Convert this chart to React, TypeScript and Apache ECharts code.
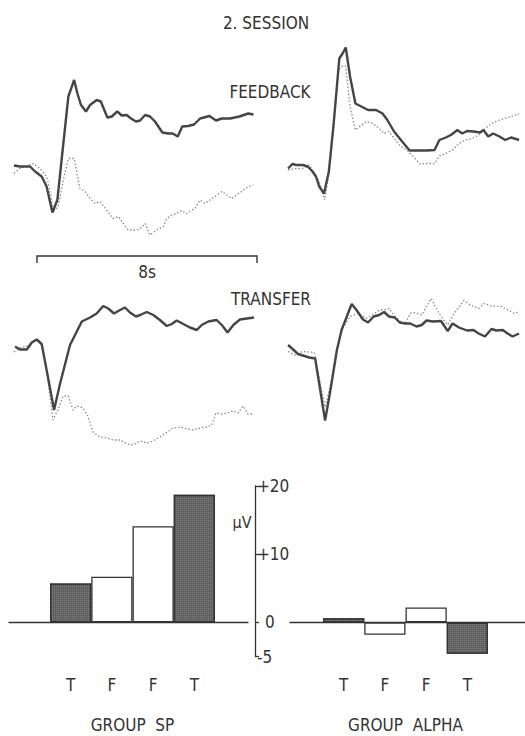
import React, { useEffect, useRef } from "react";
import * as echarts from "echarts";

// Averaged slow potentials, time in seconds from trial onset, amplitude in µV.
// Solid = group SP, dotted = comparison trace.
const feedbackSpSolid: [number, number][] = [
  [-0.84, 0.1], [-0.62, -0.1], [-0.25, -0.1], [-0.07, -1.1], [0.17, -2.1], [0.35, -4.1],
  [0.56, -9.3], [0.74, -6.8], [0.96, 4.6], [1.14, 13.9], [1.35, 17.2], [1.47, 14.5],
  [1.6, 12.2], [1.78, 10.9], [1.93, 12.2], [2.17, 13.2], [2.32, 12.9], [2.56, 9.7],
  [2.72, 9.9], [2.92, 10.9], [3.08, 10.1], [3.26, 10.2], [3.42, 9.5], [3.6, 8.9],
  [3.75, 9.1], [3.93, 10.2], [4.11, 9.9], [4.29, 8.9], [4.56, 6.7], [4.77, 6.5],
  [4.93, 6.5], [5.12, 5.9], [5.28, 7.9], [5.5, 8.0], [5.71, 8.3], [5.93, 9.5],
  [6.27, 10.0], [6.51, 9.1], [6.72, 9.5], [7.02, 9.5], [7.36, 9.9], [7.68, 10.5], [7.87, 10.3],
];
const feedbackSpDotted: [number, number][] = [
  [-0.84, -1.5], [-0.62, -0.5], [-0.13, 0.5], [0.11, -0.5], [0.35, -2.1], [0.47, -4.8],
  [0.59, -9.1], [0.77, -8.1], [0.96, -2.8], [1.14, 1.5], [1.35, 1.5], [1.56, -4.5],
  [1.75, -5.1], [1.93, -6.5], [2.11, -7.5], [2.29, -7.1], [2.53, -8.8], [2.77, -10.5],
  [2.96, -10.1], [3.14, -11.5], [3.32, -12.8], [3.5, -12.8], [3.72, -12.7], [3.93, -11.5],
  [4.11, -13.8], [4.35, -12.8], [4.59, -12.1], [4.72, -10.5], [4.9, -9.8], [5.08, -9.5],
  [5.26, -8.9], [5.44, -9.5], [5.63, -8.8], [5.75, -8.5], [5.93, -6.8], [6.11, -7.5],
  [6.29, -6.8], [6.47, -6.1], [6.72, -5.1], [6.9, -5.8], [7.08, -6.5], [7.26, -5.8],
  [7.44, -5.1], [7.68, -4.1], [7.87, -3.8],
];
const feedbackAlphaSolid: [number, number][] = [
  [-0.83, -0.5], [-0.67, 0.4], [-0.52, 0.2], [-0.28, 0.2], [-0.1, -0.1], [0.08, -1.1],
  [0.21, -2.1], [0.33, -4.1], [0.51, -5.5], [0.69, -1.1], [0.87, 8.5], [1.08, 21.5],
  [1.2, 22.5], [1.32, 23.7], [1.48, 17.9], [1.68, 12.5], [1.9, 11.9], [2.15, 11.2],
  [2.45, 11.2], [2.69, 10.5], [2.87, 9.2], [3.12, 6.9], [3.42, 4.9], [3.7, 3.1],
  [3.96, 3.1], [4.33, 3.1], [4.63, 3.2], [4.81, 5.2], [5.05, 5.7], [5.24, 6.2],
  [5.48, 7.2], [5.66, 6.5], [5.84, 7.0], [6.08, 6.9], [6.33, 6.7], [6.45, 7.2],
  [6.63, 5.9], [6.81, 6.5], [7.05, 5.9], [7.26, 5.2], [7.48, 5.7], [7.78, 5.2],
];
const feedbackAlphaDotted: [number, number][] = [
  [-0.83, -0.8], [-0.52, -0.5], [-0.28, -0.5], [-0.04, 0.2], [0.15, -1.5], [0.33, -3.1],
  [0.53, -6.8], [0.69, -1.8], [0.87, 7.9], [1.05, 19.2], [1.17, 19.9], [1.32, 19.9],
  [1.48, 11.9], [1.68, 7.2], [1.84, 7.9], [2.08, 8.9], [2.33, 8.5], [2.57, 7.5],
  [2.75, 6.5], [2.93, 6.9], [3.12, 5.5], [3.36, 4.0], [3.6, 3.2], [3.85, 1.8],
  [4.08, 0.4], [4.33, 0.5], [4.63, 0.5], [4.81, 2.0], [5.05, 2.5], [5.3, 3.2],
  [5.54, 4.5], [5.78, 5.2], [6.03, 5.5], [6.27, 6.2], [6.51, 7.5], [6.75, 8.5],
  [7.0, 9.1], [7.24, 9.5], [7.48, 9.9], [7.78, 10.5],
];
const transferSpSolid: [number, number][] = [
  [-0.8, 0.1], [-0.62, -0.5], [-0.37, -0.5], [-0.19, 0.9], [-0.01, 1.5], [0.17, 0.6],
  [0.35, -4.6], [0.62, -12.6], [0.84, -7.3], [1.2, 0.4], [1.63, 5.1], [1.93, 5.9],
  [2.17, 6.7], [2.41, 8.2], [2.59, 7.7], [2.8, 6.7], [3.02, 7.4], [3.2, 7.9],
  [3.38, 6.9], [3.6, 6.1], [3.75, 6.4], [3.99, 7.0], [4.23, 6.4], [4.47, 5.4],
  [4.72, 4.2], [4.9, 4.6], [5.08, 5.3], [5.32, 4.6], [5.56, 3.9], [5.81, 3.4],
  [5.99, 4.4], [6.23, 5.1], [6.53, 5.4], [6.72, 4.4], [6.93, 2.9], [7.14, 4.4],
  [7.38, 5.5], [7.63, 5.7], [7.89, 5.9],
];
const transferSpDotted: [number, number][] = [
  [-0.84, -1.0], [-0.62, -0.2], [-0.36, 0.2], [-0.15, 1.0], [0.0, 1.4], [0.18, 0.4],
  [0.36, -5.0], [0.58, -14.6], [0.76, -12.6], [0.95, -9.8], [1.13, -9.8], [1.31, -12.6],
  [1.45, -11.8], [1.67, -12.2], [1.85, -13.8], [2.04, -17.0], [2.29, -18.0], [2.55, -18.2],
  [2.76, -18.6], [3.02, -18.6], [3.27, -19.4], [3.49, -19.6], [3.75, -18.8], [4.0, -19.2],
  [4.22, -18.8], [4.47, -18.0], [4.73, -17.0], [4.95, -16.2], [5.2, -16.0], [5.45, -16.4],
  [5.67, -16.6], [5.93, -16.2], [6.18, -16.0], [6.36, -15.6], [6.51, -13.2], [6.73, -13.4],
  [6.91, -13.2], [7.13, -12.8], [7.31, -13.2], [7.49, -11.8], [7.67, -13.4], [7.89, -13.4],
];
const transferAlphaSolid: [number, number][] = [
  [-0.83, 0.4], [-0.64, -0.5], [-0.46, -1.4], [-0.22, -1.8], [-0.04, -2.1], [0.18, -2.3],
  [0.33, -7.3], [0.55, -14.7], [0.75, -8.6], [0.99, -0.6], [1.17, 3.5], [1.36, 6.1],
  [1.54, 8.6], [1.72, 7.4], [1.96, 5.5], [2.15, 4.9], [2.36, 6.1], [2.57, 6.4],
  [2.75, 7.0], [2.93, 6.1], [3.14, 5.9], [3.33, 4.9], [3.54, 4.7], [3.72, 4.7],
  [3.96, 4.1], [4.15, 4.4], [4.33, 5.3], [4.57, 5.1], [4.87, 5.2], [5.12, 3.2],
  [5.3, 4.7], [5.54, 3.9], [5.84, 3.3], [6.08, 3.4], [6.27, 2.7], [6.51, 2.1],
  [6.75, 3.6], [6.93, 3.3], [7.17, 3.4], [7.35, 2.7], [7.54, 2.1], [7.78, 2.7],
];
const transferAlphaDotted: [number, number][] = [
  [-0.83, -0.9], [-0.58, -1.6], [-0.28, -0.9], [0.15, -1.1], [0.33, -6.2], [0.55, -12.0],
  [0.75, -7.6], [0.99, -0.6], [1.17, 3.4], [1.48, 6.1], [1.78, 6.7], [2.08, 5.7],
  [2.39, 6.7], [2.57, 7.4], [2.75, 7.4], [2.93, 7.7], [3.12, 6.4], [3.36, 5.1],
  [3.54, 4.7], [3.72, 6.7], [3.9, 6.9], [4.15, 6.4], [4.33, 8.1], [4.51, 9.7],
  [4.69, 7.7], [4.87, 6.1], [5.12, 4.4], [5.36, 6.7], [5.72, 9.3], [5.96, 8.4],
  [6.27, 7.7], [6.48, 8.7], [6.75, 8.2], [7.12, 8.1], [7.36, 7.4], [7.6, 6.7], [7.78, 7.1],
];

// Mean amplitude change per block (µV); T = transfer, F = feedback.
const barCategories = ["T", "F", "F", "T"];
const spValues = [5.7, 6.7, 14.1, 18.7];
const alphaValues = [0.6, -1.8, 2.2, -4.6];
const amplitudeTicks = [-5, 0, 10, 20];
const scaleBarSeconds = 8;

const FONT = "'DejaVu Sans Condensed', 'DejaVu Sans', sans-serif";
const INK = "#333333";
const SOLID = "#454545";
const DOTTED = "#8a8a8a";

export default function App() {
  const ref = useRef<HTMLDivElement>(null);

  useEffect(() => {
    if (!ref.current) return;
    const chart = echarts.init(ref.current, null, { renderer: "svg" });

    const traceGrids = [
      { left: 9.5, width: 247.5, top: 36, height: 210, min: -16, max: 26 },
      { left: 283.5, width: 247.5, top: 36, height: 210, min: -16, max: 26 },
      { left: 9.5, width: 247.5, top: 287, height: 170, min: -22, max: 12 },
      { left: 283.5, width: 247.5, top: 287, height: 170, min: -22, max: 12 },
    ];
    const traces = [
      [feedbackSpSolid, feedbackSpDotted],
      [feedbackAlphaSolid, feedbackAlphaDotted],
      [transferSpSolid, transferSpDotted],
      [transferAlphaSolid, transferAlphaDotted],
    ];

    const barTop = 486;
    const barHeight = 170.5;
    const grids: any[] = traceGrids.map((g) => ({
      left: g.left, width: g.width, top: g.top, height: g.height,
    }));
    grids.push(
      { left: 50, width: 165, top: barTop, height: barHeight },
      { left: 323, width: 165, top: barTop, height: barHeight },
      { left: 9, width: 239, top: barTop, height: barHeight },
      { left: 290, width: 240, top: barTop, height: barHeight },
    );

    const xAxes: any[] = traceGrids.map((_, i) => ({
      type: "value", gridIndex: i, min: -1, max: 8, show: false,
    }));
    const yAxes: any[] = traceGrids.map((g, i) => ({
      type: "value", gridIndex: i, min: g.min, max: g.max, show: false,
    }));

    const catAxis = (gridIndex: number, name: string) => ({
      type: "category",
      gridIndex,
      data: barCategories,
      axisLine: { show: false },
      axisTick: { show: false },
      axisLabel: { margin: 20, fontSize: 17, color: INK, fontFamily: FONT },
      name,
      nameLocation: "middle",
      nameGap: 60,
      nameTextStyle: { fontSize: 17, color: INK, fontFamily: FONT },
    });
    xAxes.push(catAxis(4, "GROUP  SP"), catAxis(5, "GROUP  ALPHA"));
    yAxes.push(
      {
        type: "value",
        gridIndex: 4,
        min: -5,
        max: 20,
        position: "right",
        offset: 40,
        splitLine: { show: false },
        axisLine: { show: true, lineStyle: { color: INK, width: 1.3 } },
        axisTick: {
          show: true,
          customValues: amplitudeTicks,
          length: 4,
          lineStyle: { color: INK, width: 1.3 },
        },
        axisLabel: {
          customValues: amplitudeTicks,
          formatter: (v: number) => (v > 0 ? "+" + v : v === 0 ? "{z|0}" : String(v)),
          rich: { z: { padding: [0, 0, 0, 8], fontSize: 17, color: INK, fontFamily: FONT } },
          margin: 2,
          fontSize: 17,
          color: INK,
          fontFamily: FONT,
        },
      },
      { type: "value", gridIndex: 5, min: -5, max: 20, show: false },
    );
    // zero lines across each bar group
    [6, 7].forEach((gi) => {
      xAxes.push({
        type: "value", gridIndex: gi, min: 0, max: 1,
        axisLine: { show: true, onZero: true, lineStyle: { color: INK, width: 1.3 } },
        axisTick: { show: false }, axisLabel: { show: false }, splitLine: { show: false },
      });
      yAxes.push({ type: "value", gridIndex: gi, min: -5, max: 20, show: false });
    });

    const series: any[] = [];
    traces.forEach(([solid, dotted], i) => {
      series.push(
        {
          type: "line", xAxisIndex: i, yAxisIndex: i, data: dotted, showSymbol: false,
          lineStyle: { color: DOTTED, width: 1.3, type: [1.5, 2] }, z: 2,
        },
        {
          type: "line", xAxisIndex: i, yAxisIndex: i, data: solid, showSymbol: false,
          lineStyle: { color: SOLID, width: 2.4 }, z: 3,
        },
      );
    });

    const stippled = {
      color: "#5e5e5e",
      decal: {
        symbol: "rect",
        symbolSize: 1,
        dashArrayX: [1, 1],
        dashArrayY: [1, 1],
        color: "rgba(255,255,255,0.22)",
      },
    };
    const plain = { color: "#ffffff" };
    const barData = (vals: number[]) =>
      vals.map((v, i) => ({ value: v, itemStyle: barCategories[i] === "T" ? stippled : plain }));
    [
      [4, spValues],
      [5, alphaValues],
    ].forEach(([idx, vals]: any) => {
      series.push({
        type: "bar",
        xAxisIndex: idx,
        yAxisIndex: idx,
        data: barData(vals),
        barCategoryGap: "0%",
        itemStyle: { borderColor: "#333", borderWidth: 1.3 },
        z: 3,
      });
    });

    chart.setOption({
      animation: false,
      backgroundColor: "#ffffff",
      grid: grids,
      xAxis: xAxes,
      yAxis: yAxes,
      series,
    });

    // time scale bar under the feedback traces, spanning 0..8 s on the trace axis
    const p0 = chart.convertToPixel({ gridIndex: 0 }, [0, 0]) as number[];
    const p1 = chart.convertToPixel({ gridIndex: 0 }, [scaleBarSeconds, 0]) as number[];
    const text = (t: string, x: number, y: number, size = 17) => ({
      type: "text",
      x,
      y,
      style: {
        text: t,
        fill: INK,
        font: `${size}px ${FONT}`,
        textAlign: "center",
        textVerticalAlign: "middle",
      },
    });
    chart.setOption({
      graphic: [
        text("2. SESSION", 266, 23),
        text("FEEDBACK", 270, 91.5),
        text("TRANSFER", 271, 299),
        text(`${scaleBarSeconds}s`, (p0[0] + p1[0]) / 2, 271.5),
        text("µV", 242, 522, 16),
        {
          type: "polyline",
          shape: { points: [[p0[0], 263], [p0[0], 256], [p1[0], 256], [p1[0], 263]] },
          style: { stroke: INK, lineWidth: 1.4, fill: "none" },
        },
      ],
    });

    return () => chart.dispose();
  }, []);

  return (
    <div
      ref={ref}
      style={{ position: "fixed", left: 0, top: 0, width: 525, height: 736, background: "#fff" }}
    />
  );
}
